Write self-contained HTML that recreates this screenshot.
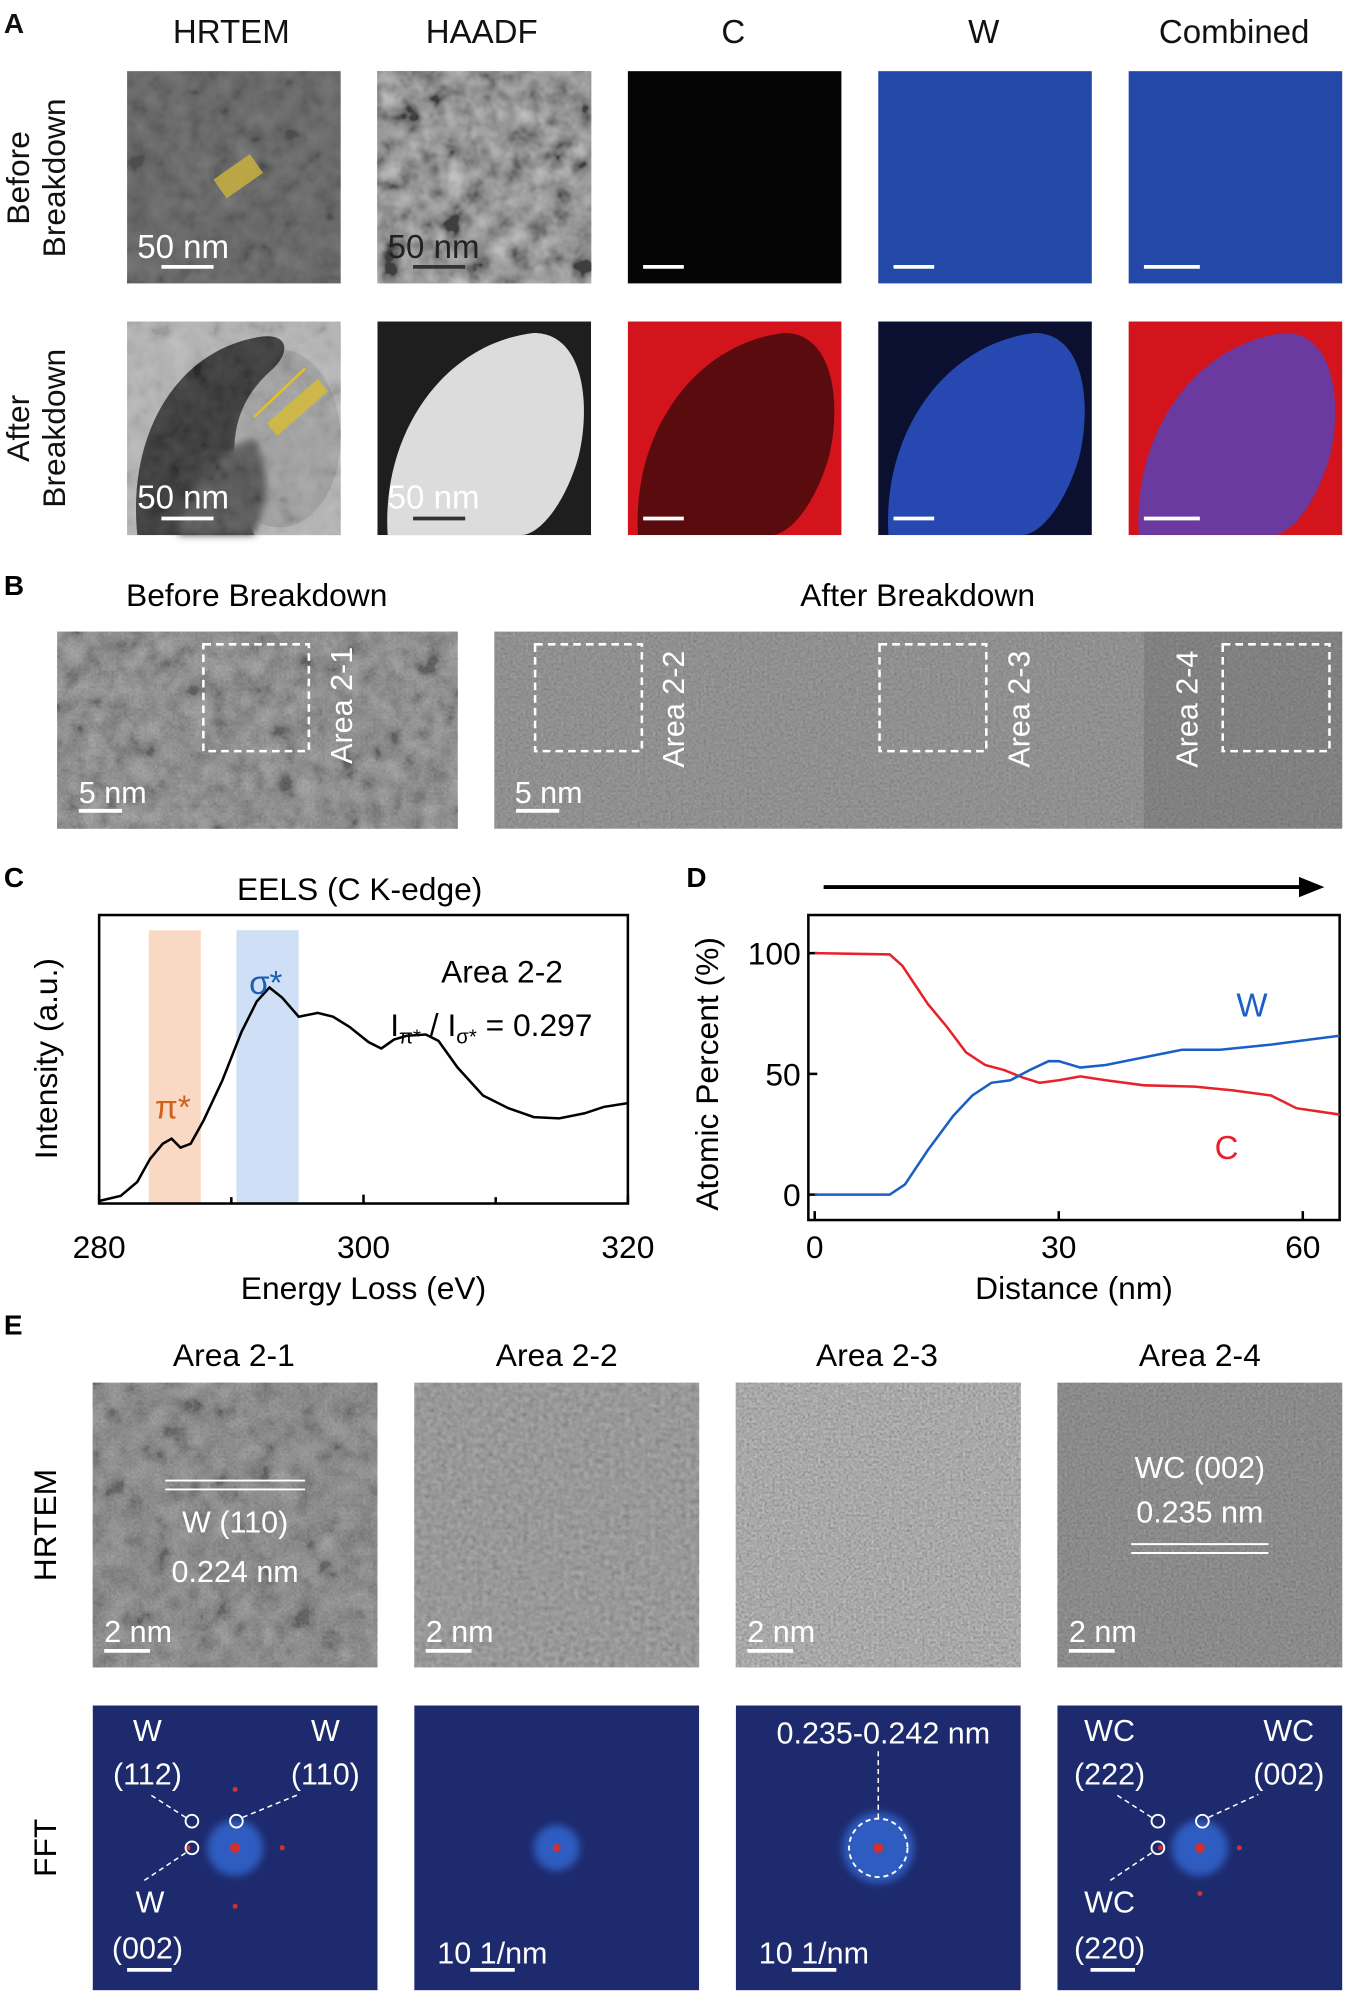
<!DOCTYPE html>
<html><head><meta charset="utf-8"><style>
html,body{margin:0;padding:0;background:#fff;}
svg{display:block;}
text{font-family:"Liberation Sans",sans-serif;}
</style></head><body>
<svg width="1346" height="1994" viewBox="0 0 1059 1569" preserveAspectRatio="none" xmlns="http://www.w3.org/2000/svg">
<defs>
<filter id="n1" x="0" y="0" width="100%" height="100%"><feTurbulence type="fractalNoise" baseFrequency="0.25" numOctaves="2" seed="3"/><feColorMatrix type="matrix" values="0.33 0.33 0.33 0 0 0.33 0.33 0.33 0 0 0.33 0.33 0.33 0 0 0 0 0 0 0.5"/></filter>
<filter id="n2" x="0" y="0" width="100%" height="100%"><feTurbulence type="fractalNoise" baseFrequency="0.06" numOctaves="3" seed="7"/><feColorMatrix type="matrix" values="0.5 0.5 0.5 0 -0.5 0.5 0.5 0.5 0 -0.5 0.5 0.5 0.5 0 -0.5 0 0 0 0 0.7"/></filter>
<filter id="n3" x="0" y="0" width="100%" height="100%"><feTurbulence type="fractalNoise" baseFrequency="0.5" numOctaves="1" seed="11"/><feColorMatrix type="matrix" values="0.33 0.33 0.33 0 0 0.33 0.33 0.33 0 0 0.33 0.33 0.33 0 0 0 0 0 0 0.8"/></filter>
<filter id="bl"><feGaussianBlur stdDeviation="3"/></filter>
<filter id="bl2"><feGaussianBlur stdDeviation="10"/></filter>
</defs>
<g font-size="26" fill="#111">
<text x="3" y="26" font-weight="bold" font-size="22">A</text>
<text x="182" y="34" text-anchor="middle">HRTEM</text>
<text x="379" y="34" text-anchor="middle">HAADF</text>
<text x="577" y="34" text-anchor="middle">C</text>
<text x="774" y="34" text-anchor="middle">W</text>
<text x="971" y="34" text-anchor="middle">Combined</text>
<text transform="translate(45,140) rotate(-90)" text-anchor="middle" font-size="25"><tspan x="0" dy="-22">Before</tspan><tspan x="0" dy="28">Breakdown</tspan></text>
<text transform="translate(45,337) rotate(-90)" text-anchor="middle" font-size="25"><tspan x="0" dy="-22">After</tspan><tspan x="0" dy="28">Breakdown</tspan></text>
</g>
<!-- Row 1 -->
<rect x="100" y="56" width="168" height="167" fill="#626262"/>
<rect x="100" y="56" width="168" height="167" filter="url(#n2)" opacity="0.3"/>
<rect x="170" y="130" width="35" height="18" fill="#c9b040" opacity="0.85" transform="rotate(-35 187 139)"/>
<rect x="297" y="56" width="168" height="167" fill="#a8a8a8"/>
<rect x="297" y="56" width="168" height="167" filter="url(#n2)" opacity="0.9"/>
<rect x="494" y="56" width="168" height="167" fill="#050505"/>
<rect x="691" y="56" width="168" height="167" fill="#2448a8"/>
<rect x="888" y="56" width="168" height="167" fill="#2448a8"/>
<!-- Row 2 -->
<rect x="100" y="253" width="168" height="168" fill="#bdbdbd"/>
<ellipse cx="220" cy="345" rx="48" ry="70" fill="#a8a8a8"/>
<path d="M108,421 C100,340 140,275 205,265 C225,262 230,275 215,290 C180,320 175,360 200,421Z" fill="#333"/>
<path d="M140,421 C150,380 175,350 200,345 C215,370 210,400 200,421Z" fill="#555" filter="url(#bl)"/>
<rect x="100" y="253" width="168" height="168" filter="url(#n2)" opacity="0.25"/>
<path d="M210,333 L250,298 L258,308 L218,343Z" fill="#d6bb3a" opacity="0.85"/>
<line x1="240" y1="290" x2="200" y2="328" stroke="#e5c020" stroke-width="2"/>
<rect x="297" y="253" width="168" height="168" fill="#1e1e1e"/>
<path d="M305,421 C300,340 350,270 420,262 C460,262 465,320 455,360 C445,395 425,421 410,421Z" fill="#dcdcdc"/>
<rect x="494" y="253" width="168" height="168" fill="#d4141c"/>
<path d="M502,421 C497,340 547,270 617,262 C657,262 662,320 652,360 C642,395 622,421 607,421Z" fill="#5a0b0e"/>
<rect x="691" y="253" width="168" height="168" fill="#0b1030"/>
<path d="M699,421 C694,340 744,270 814,262 C854,262 859,320 849,360 C839,395 819,421 804,421Z" fill="#2648b0"/>
<rect x="888" y="253" width="168" height="168" fill="#d4141c"/>
<path d="M896,421 C891,340 941,270 1011,262 C1051,262 1056,320 1046,360 C1036,395 1016,421 1001,421Z" fill="#6a3aa0"/>
<!-- scale bars -->
<g stroke="#fff" stroke-width="3">
<line x1="127" y1="210" x2="168" y2="210"/><line x1="325" y1="210" x2="366" y2="210" stroke="#333"/>
<line x1="506" y1="210" x2="538" y2="210"/><line x1="703" y1="210" x2="735" y2="210"/><line x1="900" y1="210" x2="944" y2="210"/>
<line x1="127" y1="408" x2="168" y2="408"/><line x1="325" y1="408" x2="366" y2="408" stroke="#333"/>
<line x1="506" y1="408" x2="538" y2="408"/><line x1="703" y1="408" x2="735" y2="408"/><line x1="900" y1="408" x2="944" y2="408"/>
</g>
<g font-size="26" fill="#fff">
<text x="108" y="203">50 nm</text><text x="305" y="203" fill="#222">50 nm</text>
<text x="108" y="400">50 nm</text><text x="305" y="400">50 nm</text>
</g>
<!-- Panel B -->
<text x="3" y="468" font-weight="bold" font-size="22">B</text>
<text x="202" y="477" text-anchor="middle" font-size="25">Before Breakdown</text>
<text x="722" y="477" text-anchor="middle" font-size="25">After Breakdown</text>
<rect x="45" y="497" width="315" height="155" fill="#6a6a6a"/>
<rect x="45" y="497" width="315" height="155" filter="url(#n2)" opacity="0.7"/>
<rect x="45" y="497" width="315" height="155" filter="url(#n3)" opacity="0.4"/>
<rect x="389" y="497" width="667" height="155" fill="#6e6e6e"/>
<rect x="389" y="497" width="667" height="155" filter="url(#n3)" opacity="0.55"/>
<rect x="900" y="497" width="156" height="155" fill="#444" opacity="0.2"/>
<g fill="none" stroke="#fff" stroke-width="2" stroke-dasharray="6,4">
<rect x="160" y="507" width="83" height="84"/><rect x="421" y="507" width="84" height="84"/>
<rect x="692" y="507" width="84" height="84"/><rect x="962" y="507" width="84" height="84"/>
</g>
<g fill="#fff" font-size="24">
<text transform="translate(277,555) rotate(-90)" text-anchor="middle">Area 2-1</text>
<text transform="translate(538,558) rotate(-90)" text-anchor="middle">Area 2-2</text>
<text transform="translate(810,558) rotate(-90)" text-anchor="middle">Area 2-3</text>
<text transform="translate(942,558) rotate(-90)" text-anchor="middle">Area 2-4</text>
<text x="62" y="632">5 nm</text><text x="405" y="632">5 nm</text>
</g>
<g stroke="#fff" stroke-width="3"><line x1="62" y1="638" x2="96" y2="638"/><line x1="406" y1="638" x2="440" y2="638"/></g>
<!-- Panel C -->
<text x="3" y="698" font-weight="bold" font-size="22">C</text>
<text x="283" y="708" text-anchor="middle" font-size="25">EELS (C K-edge)</text>
<rect x="117" y="732" width="41" height="215" fill="#f9d9c3"/>
<rect x="186" y="732" width="49" height="215" fill="#cfe0f6"/>
<rect x="78" y="720" width="416" height="227" fill="none" stroke="#000" stroke-width="2"/>
<polyline fill="none" stroke="#000" stroke-width="2" points="78,945 95,941 108,930 118,912 128,900 135,896 142,903 150,900 160,882 175,850 190,812 202,788 212,777 222,785 235,800 250,797 262,800 275,808 290,820 300,825 310,818 320,815 335,814 345,819 360,840 380,862 400,872 420,879 440,880 460,876 475,871 494,868"/>
<text x="122" y="880" fill="#d2601a" font-size="26">π*</text>
<text x="196" y="782" fill="#1a5fb4" font-size="26">σ*</text>
<text x="395" y="773" text-anchor="middle" font-size="25">Area 2-2</text>
<text x="307" y="815" font-size="25">I<tspan font-size="16" dy="6">π*</tspan><tspan dy="-6"> / I</tspan><tspan font-size="16" dy="6">σ*</tspan><tspan dy="-6"> = 0.297</tspan></text>
<g stroke="#000" stroke-width="2"><line x1="78" y1="947" x2="78" y2="940"/><line x1="182" y1="947" x2="182" y2="942"/><line x1="286" y1="947" x2="286" y2="940"/><line x1="390" y1="947" x2="390" y2="942"/><line x1="494" y1="947" x2="494" y2="940"/></g>
<g font-size="25" text-anchor="middle"><text x="78" y="990">280</text><text x="286" y="990">300</text><text x="494" y="990">320</text>
<text x="286" y="1022">Energy Loss (eV)</text>
<text transform="translate(45,833) rotate(-90)">Intensity (a.u.)</text></g>
<!-- Panel D -->
<text x="540" y="698" font-weight="bold" font-size="22">D</text>
<line x1="648" y1="698" x2="1025" y2="698" stroke="#000" stroke-width="3"/>
<polygon points="1042,698 1022,690 1022,706" fill="#000"/>
<rect x="636" y="720" width="418" height="240" fill="none" stroke="#000" stroke-width="2"/>
<g stroke="#000" stroke-width="2"><line x1="636" y1="750" x2="643" y2="750"/><line x1="636" y1="845" x2="643" y2="845"/><line x1="636" y1="940" x2="643" y2="940"/>
<line x1="641" y1="960" x2="641" y2="953"/><line x1="833" y1="960" x2="833" y2="953"/><line x1="1025" y1="960" x2="1025" y2="953"/></g>
<polyline fill="none" stroke="#e8222a" stroke-width="2" points="641,750 700,751 710,760 730,790 745,808 760,828 775,838 790,842 805,848 818,852 833,850 850,847 870,850 900,854 940,855 970,858 1000,862 1020,872 1054,877"/>
<polyline fill="none" stroke="#1a5fc8" stroke-width="2" points="641,940 700,940 712,932 730,905 750,878 765,862 780,852 795,850 810,842 825,835 833,835 850,840 870,838 900,832 930,826 960,826 1000,822 1030,818 1054,815"/>
<text x="985" y="800" text-anchor="middle" fill="#1a5fc8" font-size="26">W</text>
<text x="965" y="912" text-anchor="middle" fill="#e8222a" font-size="26">C</text>
<g font-size="25"><text x="630" y="759" text-anchor="end">100</text><text x="630" y="854" text-anchor="end">50</text><text x="630" y="949" text-anchor="end">0</text>
<text x="641" y="990" text-anchor="middle">0</text><text x="833" y="990" text-anchor="middle">30</text><text x="1025" y="990" text-anchor="middle">60</text>
<text x="845" y="1022" text-anchor="middle">Distance (nm)</text>
<text transform="translate(565,845) rotate(-90)" text-anchor="middle">Atomic Percent (%)</text></g>
<!-- Panel E -->
<text x="3" y="1050" font-weight="bold" font-size="22">E</text>
<g font-size="25" text-anchor="middle"><text x="184" y="1075">Area 2-1</text><text x="438" y="1075">Area 2-2</text><text x="690" y="1075">Area 2-3</text><text x="944" y="1075">Area 2-4</text>
<text transform="translate(44,1200) rotate(-90)">HRTEM</text><text transform="translate(44,1454) rotate(-90)">FFT</text></g>
<rect x="73" y="1088" width="224" height="224" fill="#606060"/><rect x="73" y="1088" width="224" height="224" filter="url(#n3)" opacity="0.6"/>
<rect x="73" y="1088" width="224" height="224" filter="url(#n2)" opacity="0.4"/>
<rect x="326" y="1088" width="224" height="224" fill="#7a7a7a"/><rect x="326" y="1088" width="224" height="224" filter="url(#n1)" opacity="0.95"/>
<rect x="579" y="1088" width="224" height="224" fill="#6e6e6e"/><rect x="579" y="1088" width="224" height="224" filter="url(#n3)" opacity="0.95"/>
<rect x="832" y="1088" width="224" height="224" fill="#5e5e5e"/><rect x="832" y="1088" width="224" height="224" filter="url(#n3)" opacity="0.6"/>
<g stroke="#fff" stroke-width="1.5"><line x1="130" y1="1165" x2="240" y2="1165"/><line x1="130" y1="1172" x2="240" y2="1172"/>
<line x1="890" y1="1215" x2="998" y2="1215"/><line x1="890" y1="1222" x2="998" y2="1222"/></g>
<g fill="#fff" font-size="24" text-anchor="middle"><text x="185" y="1206">W (110)</text><text x="185" y="1245">0.224 nm</text>
<text x="944" y="1163">WC (002)</text><text x="944" y="1198">0.235 nm</text></g>
<g fill="#fff" font-size="24"><text x="82" y="1292">2 nm</text><text x="335" y="1292">2 nm</text><text x="588" y="1292">2 nm</text><text x="841" y="1292">2 nm</text></g>
<g stroke="#fff" stroke-width="3"><line x1="82" y1="1299" x2="118" y2="1299"/><line x1="335" y1="1299" x2="371" y2="1299"/><line x1="588" y1="1299" x2="624" y2="1299"/><line x1="841" y1="1299" x2="877" y2="1299"/></g>
<!-- FFT -->
<rect x="73" y="1342" width="224" height="224" fill="#1d2a6e"/>
<rect x="326" y="1342" width="224" height="224" fill="#1d2a6e"/>
<rect x="579" y="1342" width="224" height="224" fill="#1d2a6e"/>
<rect x="832" y="1342" width="224" height="224" fill="#1d2a6e"/>
<g filter="url(#bl)"><circle cx="185" cy="1454" r="22" fill="#2f5cc0"/><circle cx="438" cy="1454" r="18" fill="#2f5cc0"/><circle cx="691" cy="1454" r="28" fill="#2f5cc0"/><circle cx="944" cy="1454" r="22" fill="#2f5cc0"/></g>
<g fill="#d03030"><circle cx="185" cy="1454" r="4"/><circle cx="438" cy="1454" r="3"/><circle cx="691" cy="1454" r="4"/><circle cx="944" cy="1454" r="4"/>
<circle cx="185" cy="1500" r="2"/><circle cx="185" cy="1408" r="2"/><circle cx="222" cy="1454" r="2"/><circle cx="148" cy="1454" r="2"/>
<circle cx="975" cy="1454" r="2"/><circle cx="913" cy="1454" r="2"/><circle cx="944" cy="1490" r="2"/></g>
<circle cx="691" cy="1454" r="23" fill="none" stroke="#fff" stroke-width="1.5" stroke-dasharray="4,3"/>
<g fill="none" stroke="#fff" stroke-width="1.5"><circle cx="151" cy="1433" r="5"/><circle cx="151" cy="1454" r="5"/><circle cx="186" cy="1433" r="5"/>
<circle cx="911" cy="1433" r="5"/><circle cx="911" cy="1454" r="5"/><circle cx="946" cy="1433" r="5"/></g>
<g stroke="#fff" stroke-width="1.2" stroke-dasharray="4,3"><line x1="146" y1="1430" x2="118" y2="1412"/><line x1="191" y1="1430" x2="235" y2="1412"/><line x1="146" y1="1458" x2="113" y2="1480"/>
<line x1="906" y1="1430" x2="878" y2="1412"/><line x1="951" y1="1430" x2="990" y2="1412"/><line x1="906" y1="1458" x2="873" y2="1480"/><line x1="691" y1="1378" x2="691" y2="1431"/></g>
<g fill="#fff" font-size="24" text-anchor="middle"><text x="116" y="1370">W</text><text x="116" y="1404">(112)</text><text x="256" y="1370">W</text><text x="256" y="1404">(110)</text>
<text x="118" y="1505">W</text><text x="116" y="1541">(002)</text>
<text x="873" y="1370">WC</text><text x="873" y="1404">(222)</text><text x="1014" y="1370">WC</text><text x="1014" y="1404">(002)</text>
<text x="873" y="1505">WC</text><text x="873" y="1541">(220)</text>
<text x="695" y="1372">0.235-0.242 nm</text></g>
<g fill="#fff" font-size="24"><text x="344" y="1545">10 1/nm</text><text x="597" y="1545">10 1/nm</text></g>
<g stroke="#fff" stroke-width="3"><line x1="100" y1="1550" x2="135" y2="1550"/><line x1="370" y1="1550" x2="405" y2="1550"/><line x1="623" y1="1550" x2="658" y2="1550"/><line x1="858" y1="1550" x2="893" y2="1550"/></g>
</svg>
</body></html>
